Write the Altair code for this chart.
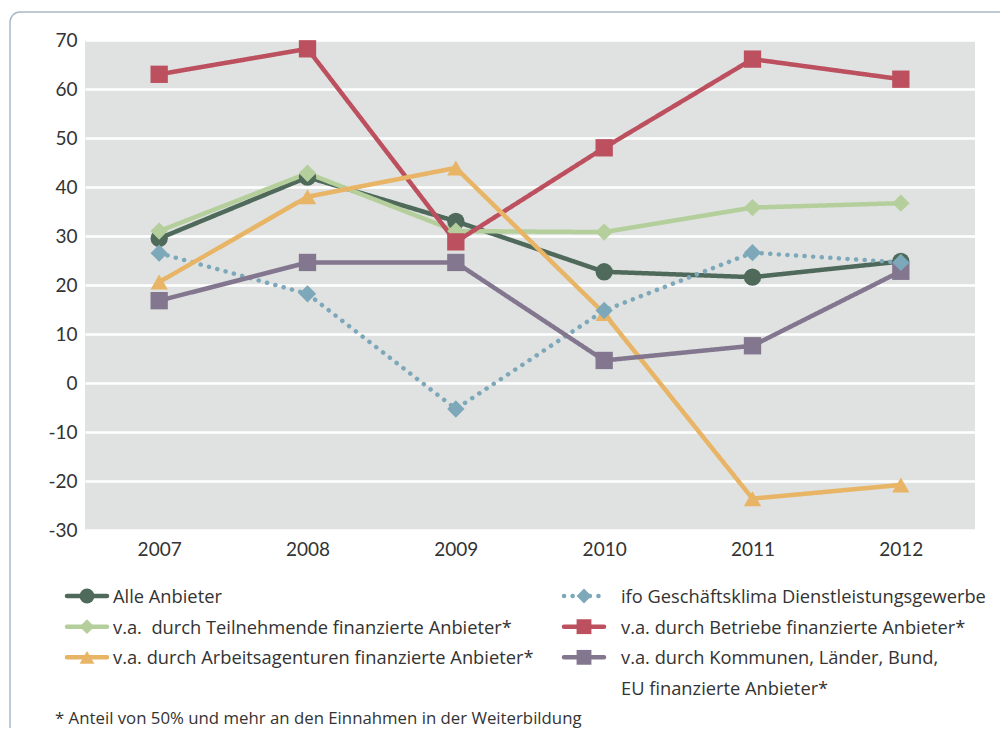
import altair as alt
import pandas as pd

years = ["2007", "2008", "2009", "2010", "2011", "2012"]

alle = [29.5, 42.0, 33.0, 22.7, 21.6, 24.8]
ifo = [26.5, 18.2, -5.3, 14.8, 26.6, 24.6]
teilnehmende = [31.0, 42.8, 31.0, 30.8, 35.8, 36.7]
betriebe = [63.0, 68.2, 28.8, 48.0, 66.1, 62.0]
arbeitsagenturen = [20.6, 38.0, 43.9, 14.2, -23.6, -20.8]
kommunen = [16.8, 24.6, 24.6, 4.6, 7.6, 22.8]

series_names = [
    "Alle Anbieter",
    "ifo Geschäftsklima Dienstleistungsgewerbe",
    "v.a.\u00a0 durch Teilnehmende finanzierte Anbieter*",
    "v.a. durch Betriebe finanzierte Anbieter*",
    "v.a. durch Arbeitsagenturen finanzierte Anbieter*",
    "v.a. durch Kommunen, Länder, Bund,\nEU finanzierte Anbieter*",
]
series_values = [alle, ifo, teilnehmende, betriebe, arbeitsagenturen, kommunen]
colors = ["#4F6A5B", "#7DA8BA", "#B4CF9B", "#BC505F", "#E8B465", "#83768F"]
shapes = ["circle", "diamond", "diamond", "square", "triangle-up", "square"]
dashed = ["solid", "dotted", "solid", "solid", "solid", "solid"]
legend_col = [0, 1, 0, 1, 0, 1]
legend_row = [0, 0, 1, 1, 2, 2]
draw_order = [0, 5, 1, 4, 3, 2]
footnote = "* Anteil von 50% und mehr an den Einnahmen in der Weiterbildung"

rows = []
for name, vals, dsh, o in zip(series_names, series_values, dashed, draw_order):
    for y, v in zip(years, vals):
        rows.append({"series": name, "year": y, "value": v, "dash": dsh, "ord": o})
df = pd.DataFrame(rows)

leg = pd.DataFrame({
    "series": series_names,
    "col": legend_col,
    "row": legend_row,
    "dash": dashed,
})

W, H = 890, 490
TICK_FONT = "Lato"
TEXT_FONT = "Open Sans"

color_scale = alt.Scale(domain=series_names, range=colors)
shape_scale = alt.Scale(domain=series_names, range=shapes)
dash_scale = alt.Scale(domain=["solid", "dotted"], range=[[1, 0], [0.1, 8.5]])
x_scale = alt.Scale(domain=years, padding=0.5)
y_scale = alt.Scale(domain=[-30, 70], nice=False, zero=False)

base = alt.Chart(df)

lines = base.mark_line(strokeWidth=4.5, strokeCap="round", strokeJoin="round").encode(
    x=alt.X("year:O", scale=x_scale, sort=years, title=None,
            axis=alt.Axis(labelAngle=0, ticks=False, domain=False, labelPadding=10,
                          labelFontSize=19, labelColor="#333333", labelFont=TICK_FONT)),
    y=alt.Y("value:Q", scale=y_scale, title=None,
            axis=alt.Axis(values=list(range(-30, 71, 10)), ticks=False, domain=False,
                          labelExpr="'' + datum.value",
                          labelPadding=8, labelFontSize=19, labelColor="#333333",
                          labelFont=TICK_FONT, gridColor="white", gridWidth=2.5, gridOpacity=1)),
    color=alt.Color("series:N", scale=color_scale, legend=None),
    strokeDash=alt.StrokeDash("dash:N", scale=dash_scale, legend=None),
    detail="series:N",
    order=alt.Order("ord:Q"),
)

points = base.mark_point(filled=True, opacity=1, size=300).encode(
    x=alt.X("year:O", scale=x_scale, sort=years, axis=None),
    y=alt.Y("value:Q", scale=y_scale, axis=None),
    color=alt.Color("series:N", scale=color_scale, legend=None),
    shape=alt.Shape("series:N", scale=shape_scale, legend=None),
    order=alt.Order("ord:Q"),
)

leg_base = alt.Chart(leg)
leg_y = alt.Y("row:Q", scale=alt.Scale(domain=[0, 3], range=[556, 648]), axis=None)
sym_x = alt.X("col:Q", scale=alt.Scale(domain=[0, 1], range=[2, 499]), axis=None)
txt_x = alt.X("col:Q", scale=alt.Scale(domain=[0, 1], range=[28, 536]), axis=None)

leg_lines = leg_base.mark_rule(strokeWidth=4.5, strokeCap="round", xOffset=-20, x2Offset=20).encode(
    x=sym_x, x2="col:Q", y=leg_y,
    color=alt.Color("series:N", scale=color_scale, legend=None),
    strokeDash=alt.StrokeDash("dash:N", scale=dash_scale, legend=None),
)
leg_pts = leg_base.mark_point(filled=True, opacity=1, size=220).encode(
    x=sym_x, y=leg_y,
    color=alt.Color("series:N", scale=color_scale, legend=None),
    shape=alt.Shape("series:N", scale=shape_scale, legend=None),
)
leg_txt = leg_base.mark_text(align="left", baseline="alphabetic", dy=7, fontSize=18.3,
                             font=TEXT_FONT, color="#333333", lineBreak="\n",
                             lineHeight=31).encode(
    x=txt_x, y=leg_y, text="series:N",
)

foot = alt.Chart(pd.DataFrame({"t": [footnote]})).mark_text(
    align="left", baseline="alphabetic", fontSize=16.8, font=TEXT_FONT, color="#333333"
).encode(x=alt.value(-30), y=alt.value(684), text="t:N")

frame = alt.Chart(pd.DataFrame({"a": [0]})).mark_rect(
    cornerRadius=10, fillOpacity=0, stroke="#A9BBC6", strokeWidth=1.5
).encode(x=alt.value(-75), x2=alt.value(1000), y=alt.value(-28), y2=alt.value(760))

chart = alt.layer(frame, lines, points, leg_lines, leg_pts, leg_txt, foot).resolve_scale(
    x="independent", y="independent"
).properties(
    width=W, height=H,
    autosize=alt.AutoSizeParams(type="none"),
    padding={"left": 77, "top": 32, "right": 25, "bottom": 198},
).configure_view(fill="#DFE2E1", stroke=None)

chart.save("out.html", embed_options={"renderer": "svg", "actions": False})
